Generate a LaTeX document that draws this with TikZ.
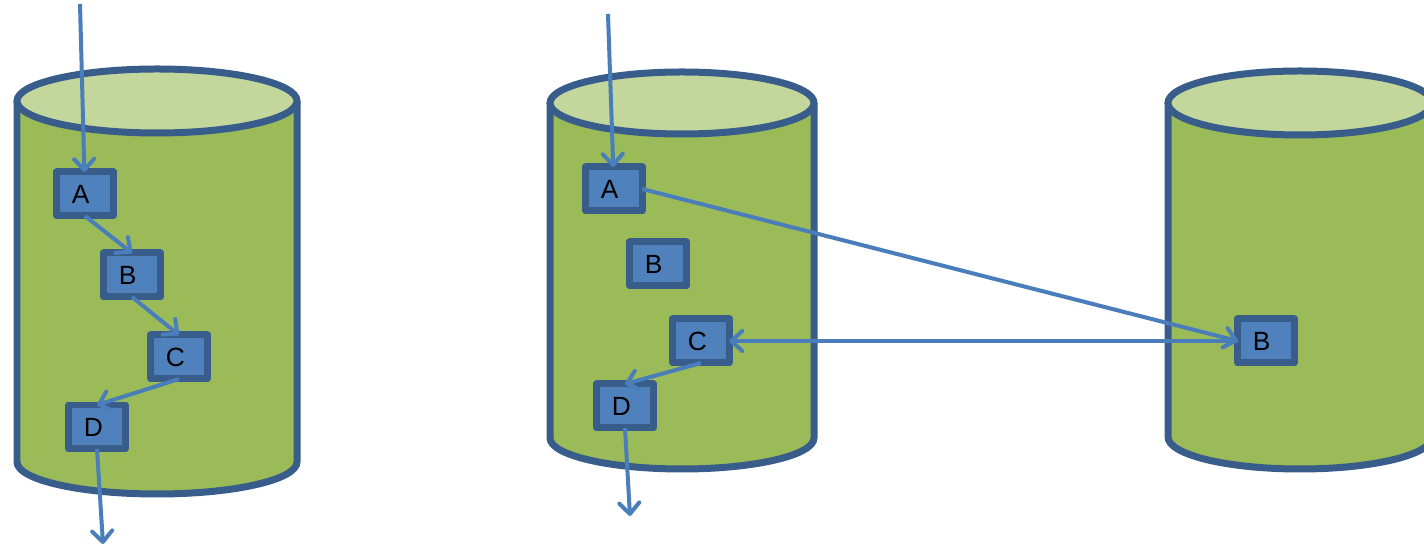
\documentclass[tikz,border=0pt]{standalone}
\usepackage{fontspec}
\setmainfont{Liberation Sans}
\usetikzlibrary{arrows.meta}
\definecolor{cylgreen}{HTML}{9BBB59}
\definecolor{cyltop}{HTML}{C3D69B}
\definecolor{darkblue}{HTML}{385D8A}
\definecolor{boxblue}{HTML}{4F81BD}
\definecolor{arrowblue}{HTML}{4A7EBB}

\begin{document}
\begin{tikzpicture}[x=0.02cm,y=-0.02cm,
        cylline/.style={draw=darkblue,line width=0.14cm},
        blk/.style={draw=darkblue,fill=boxblue,line width=0.14cm,line join=round,
            minimum height=0.88cm,text width=0.53cm,inner xsep=0.3cm,inner ysep=0pt,
            outer sep=0pt,align=left,font=\fontsize{15}{17}\selectfont},
        flow/.style={draw=arrowblue,line width=0.08cm,-{Straight Barb[length=0.22cm,width=0.4cm,round]}}]

    \clip (0,0) rectangle (1424,546);

    % cylinders
    \foreach \cx/\rx/\ry/\top/\bot in {157/140/32/101/462, 682/132/31/103/438, 1300/132/32/103/437} {
        \filldraw[fill=cylgreen,cylline] (\cx-\rx,\top) -- (\cx-\rx,\bot)
            arc[start angle=180,end angle=0,x radius=\rx,y radius=\ry] -- (\cx+\rx,\top);
        \filldraw[fill=cyltop,cylline] (\cx,\top) ellipse[x radius=\rx,y radius=\ry];
    }

    % left store
    \node[blk] (A1) at (85,194) {A};
    \node[blk] (B1) at (132,275) {B};
    \node[blk] (C1) at (179,357) {C};
    \node[blk] (D1) at (97,427) {D};
    \coordinate (in1) at (80,4);
    \coordinate (out1) at (103,544);

    % middle store
    \node[blk] (A2) at (614,189) {A};
    \node[blk] (B2) at (658,264) {B};
    \node[blk] (C2) at (701,341) {C};
    \node[blk] (D2) at (625,406) {D};
    \coordinate (in2) at (608,14);
    \coordinate (out2) at (630,516);

    % right store
    \node[blk] (B3) at (1266,341) {B};

    \draw[flow] (in1) -- (A1);
    \draw[flow] (A1.south) -- (B1.north);
    \draw[flow] (B1.south) -- (C1.north);
    \draw[flow] (C1.south) -- (D1.north);
    \draw[flow] (D1.south) -- (out1);

    \draw[flow] (in2) -- (A2);
    \draw[flow] (A2.east) -- (B3.west);
    \draw[flow,{Straight Barb[length=0.22cm,width=0.4cm,round]}-] (C2.east) -- (B3.west);
    \draw[flow] (C2.south) -- (D2.north);
    \draw[flow] (D2.south) -- (out2);
\end{tikzpicture}
\end{document}
